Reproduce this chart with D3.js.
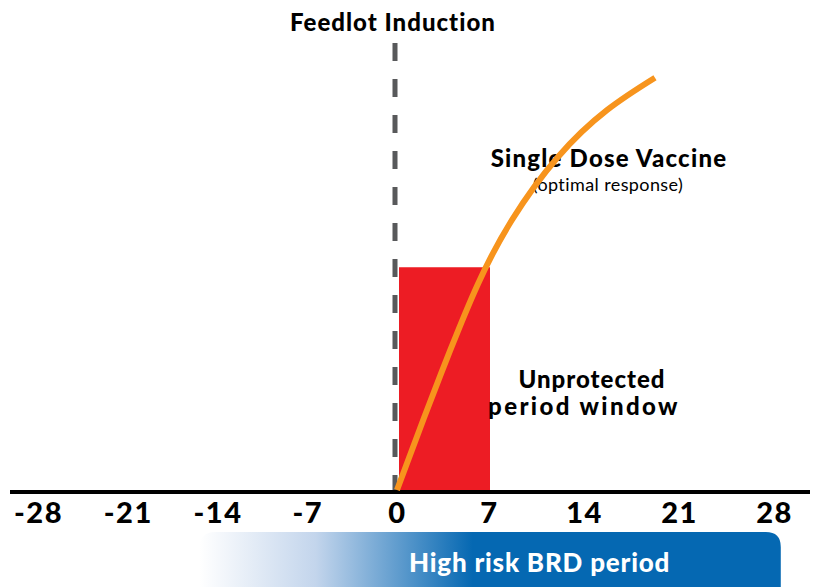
<!DOCTYPE html>
<html>
<head>
<meta charset="utf-8">
<script src="https://cdn.jsdelivr.net/npm/d3@7"></script>
<style>
  html, body { margin: 0; padding: 0; background: #fff; }
  svg { display: block; }
  text { font-family: "Lato", "DejaVu Sans", sans-serif; }
</style>
</head>
<body>
<div id="chart"></div>
<script>
// days on the x axis
const tickDays = [-28, -21, -14, -7, 0, 7, 14, 21, 28];

// single dose vaccine response curve (days after induction, relative response)
const vaccineDays = [0, 2.05, 4.03, 6.16, 8.69, 12.08, 15.69, 19.23];
const vaccineResponse = [0, 16.0, 30.9, 45.8, 60.0, 74.0, 84.4, 91.6];

// unprotected window
const windowDays = [0, 7];
const windowLevel = 49.5;

// high risk period bar (days)
const riskDays = [-15.4, 28.5];

function renderChart() {
    const width = 817, height = 587;

    const svg = d3.select("#chart").append("svg")
        .attr("width", width)
        .attr("height", height);

    // the printed tick spacing isn't even, so piecewise scale
    const x = d3.scaleLinear()
        .domain([-28, 0, 7, 28])
        .range([38, 397, 489, 774]);

    const y = d3.scaleLinear()
        .domain([0, 100])
        .range([490, 40]);

    // gradient for the risk bar
    const defs = svg.append("defs");
    const grad = defs.append("linearGradient")
        .attr("id", "riskGrad")
        .attr("x1", "0%").attr("x2", "100%")
        .attr("y1", "0%").attr("y2", "0%");
    grad.append("stop").attr("offset", "0%").attr("stop-color", "#ffffff");
    grad.append("stop").attr("offset", "20%").attr("stop-color", "#c3d5ec");
    grad.append("stop").attr("offset", "47%").attr("stop-color", "#0568b2");
    grad.append("stop").attr("offset", "100%").attr("stop-color", "#0568b2");

    // red unprotected window
    svg.append("rect")
        .attr("x", x(windowDays[0]) + 2)
        .attr("y", y(windowLevel))
        .attr("width", x(windowDays[1]) - x(windowDays[0]) - 1)
        .attr("height", y(0) - y(windowLevel))
        .attr("fill", "#ed1c24");

    // dashed induction line
    svg.append("line")
        .attr("x1", x(0) - 2).attr("x2", x(0) - 2)
        .attr("y1", 43).attr("y2", y(0))
        .attr("stroke", "#58595b")
        .attr("stroke-width", 5)
        .attr("stroke-dasharray", "18,18");

    // baseline
    svg.append("line")
        .attr("x1", 10).attr("x2", 810)
        .attr("y1", 492).attr("y2", 492)
        .attr("stroke", "#000")
        .attr("stroke-width", 4);

    // axis labels
    const axis = svg.append("g")
        .attr("transform", "translate(0,494)")
        .call(d3.axisBottom(x).tickValues(tickDays).tickSize(0).tickPadding(0).tickFormat(d => String(d)));
    axis.select(".domain").remove();
    axis.selectAll("text")
        .attr("dy", null)
        .attr("y", 29)
        .attr("fill", "#000")
        .style("font-family", "Lato, sans-serif")
        .style("font-weight", "900")
        .style("font-size", "29px")
        .style("letter-spacing", "1.5px");

    // high risk bar
    const bx = x(riskDays[0]), bw = x(riskDays[1]) - bx;
    svg.append("path")
        .attr("d", `M${bx},${height} L${bx},548 Q${bx},532 ${bx + 16},532 L${bx + bw - 15},532 Q${bx + bw},532 ${bx + bw},547 L${bx + bw},${height} Z`)
        .attr("fill", "url(#riskGrad)");

    svg.append("text")
        .attr("x", 409).attr("y", 572)
        .attr("fill", "#fff")
        .style("font-weight", "900")
        .style("font-size", "26px")
        .style("letter-spacing", "0.8px")
        .text("High risk BRD period");

    // annotations
    svg.append("text")
        .attr("x", 393).attr("y", 31)
        .attr("text-anchor", "middle")
        .style("font-weight", "900")
        .style("font-size", "24px")
        .style("letter-spacing", "1px")
        .text("Feedlot Induction");

    svg.append("text")
        .attr("x", 609).attr("y", 167)
        .attr("text-anchor", "middle")
        .style("font-weight", "900")
        .style("font-size", "24px")
        .style("letter-spacing", "1.2px")
        .text("Single Dose Vaccine");

    svg.append("text")
        .attr("x", 608).attr("y", 191)
        .attr("text-anchor", "middle")
        .style("font-size", "18px")
        .style("letter-spacing", "0.4px")
        .text("(optimal response)");

    const unp = svg.append("text")
        .attr("text-anchor", "middle")
        .style("font-weight", "900")
        .style("font-size", "24px");
    unp.append("tspan").attr("x", 592).attr("y", 388)
        .style("letter-spacing", "1px").text("Unprotected");
    unp.append("tspan").attr("x", 584).attr("y", 415)
        .style("letter-spacing", "2.4px").text("period window");

    // vaccine curve, drawn last so it sits over the label like the original
    const line = d3.line()
        .x(d => x(d[0]))
        .y(d => y(d[1]))
        .curve(d3.curveNatural);

    svg.append("path")
        .datum(vaccineDays.map((d, i) => [d, vaccineResponse[i]]))
        .attr("d", line)
        .attr("fill", "none")
        .attr("stroke", "#f7941d")
        .attr("stroke-width", 6);
}

renderChart();
</script>
</body>
</html>
